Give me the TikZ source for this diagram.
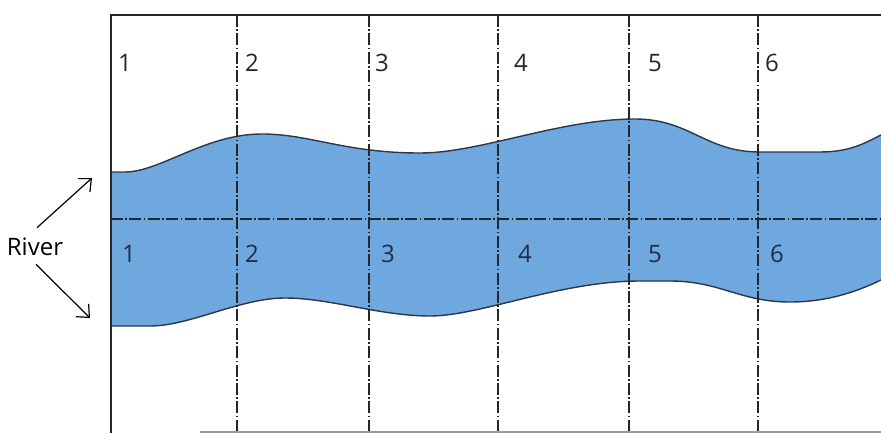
\documentclass[tikz,border=0pt]{standalone}
\usepackage{fontspec}
\setsansfont{Open Sans}
\usepackage{tikz}
\usetikzlibrary{arrows.meta, positioning}

\definecolor{riverblue}{RGB}{110,168,222}
\definecolor{riveredge}{RGB}{45,55,75}
\definecolor{darknum}{RGB}{30,45,75}

\begin{document}
\begin{tikzpicture}[
  x=0.5pt, y=-0.5pt,
  lbl/.style={font=\sffamily\fontsize{12}{14}\selectfont, inner sep=2pt},
  numtop/.style={lbl, text=black!85},
  numlow/.style={lbl, text=darknum},
  gridline/.style={line width=0.9pt, black!85,
                   dash pattern=on 6pt off 1.2pt on 0.8pt off 1.2pt},
  shore/.style={line width=0.7pt, riveredge},
  arrow/.style={-{Straight Barb[length=5pt, width=9pt]}, line width=0.6pt}
]
\useasboundingbox (0,0) rectangle (881,433);

\fill[riverblue] (111,172) -- (125,172) .. controls (160,172) and (205,134) .. (262,134)
  .. controls (310,134) and (345,153) .. (420,153) .. controls (480,153) and (560,119) .. (635,119)
  .. controls (690,119) and (705,152) .. (760,152) -- (820,152) .. controls (850,152) and (865,143) .. (881,135)
  -- (881,280) .. controls (860,290) and (830,302) .. (790,302) .. controls (740,302) and (720,281) .. (670,281)
  -- (640,281) .. controls (560,281) and (480,316) .. (430,316) .. controls (380,316) and (330,298) .. (285,298)
  .. controls (240,298) and (190,326) .. (150,326) -- (111,326) -- cycle;
\draw[shore] (111,172) -- (125,172) .. controls (160,172) and (205,134) .. (262,134)
  .. controls (310,134) and (345,153) .. (420,153) .. controls (480,153) and (560,119) .. (635,119)
  .. controls (690,119) and (705,152) .. (760,152) -- (820,152) .. controls (850,152) and (865,143) .. (881,135);
\draw[shore] (111,326) -- (150,326) .. controls (190,326) and (240,298) .. (285,298)
  .. controls (330,298) and (380,316) .. (430,316) .. controls (480,316) and (560,281) .. (640,281)
  -- (670,281) .. controls (720,281) and (740,302) .. (790,302) .. controls (830,302) and (860,290) .. (881,280);

\foreach \x in {237,369,498,629,758}
  \draw[gridline] (\x,15) -- (\x,433);
\draw[gridline] (111,219) -- (881,219);

\draw[line width=1pt, black!85] (881,15) -- (111,15) -- (111,433);
\draw[line width=0.6pt, black!40] (200,432) -- (881,432);

\foreach \x/\n in {125/1,252/2,382/3,521/4,655/5,772/6}
  \node[numtop] (top\n) at (\x,63) {\n};
\foreach \x/\n in {129/1,252/2,388/3,525/4,655/5,777/6}
  \node[numlow] (low\n) at (\x,254) {\n};

\node[lbl] (river) at (35,247) {River};
\coordinate (upTip) at (92,178);
\coordinate (downTip) at (90,318);
\draw[arrow] ([shift={(2,-6)}]river.north) -- (upTip);
\draw[arrow] ([shift={(1,4)}]river.south) -- (downTip);
\end{tikzpicture}
\end{document}
